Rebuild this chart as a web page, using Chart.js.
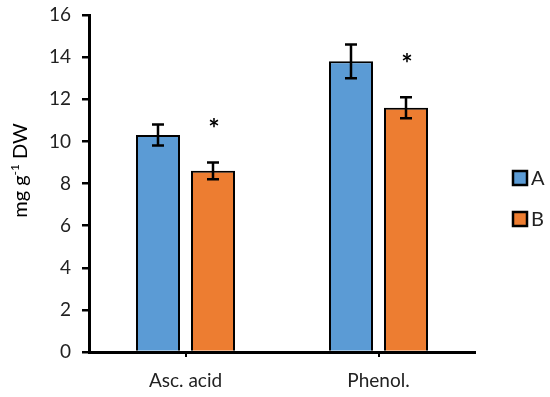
<!DOCTYPE html>
<html>
<head>
<meta charset="utf-8">
<script src="https://cdn.jsdelivr.net/npm/chart.js@4"></script>
<style>
  html, body { margin: 0; padding: 0; background: #fff; }
  #wrap { width: 550px; height: 397px; }
</style>
</head>
<body>
<div id="wrap"><canvas id="barChart"></canvas></div>
<script>
// data
const categories = ["Asc. acid", "Phenol."];
const seriesNames = ["A", "B"];
const valuesA = [10.3, 13.8];
const valuesB = [8.6, 11.6];
const errorsA = [0.5, 0.8];
const errorsB = [0.4, 0.5];
const markB = ["*", "*"]; // significance marks above series B
const yTicks = [0, 2, 4, 6, 8, 10, 12, 14, 16];

const FONT = "Lato";

// error bars + asterisks, placed with the chart's own scales
const errorBarPlugin = {
  id: "errorBars",
  afterDatasetsDraw(chart) {
    const ctx = chart.ctx;
    const y = chart.scales.y;
    ctx.save();
    ctx.strokeStyle = "#000";
    ctx.lineWidth = 2.5;
    chart.data.datasets.forEach((ds, i) => {
      const meta = chart.getDatasetMeta(i);
      meta.data.forEach((bar, j) => {
        const v = ds.data[j];
        const e = ds.errors[j];
        const yTop = y.getPixelForValue(v + e);
        const yBot = y.getPixelForValue(v - e);
        const half = 6;
        ctx.beginPath();
        ctx.moveTo(bar.x, yTop);
        ctx.lineTo(bar.x, yBot);
        ctx.moveTo(bar.x - half, yTop);
        ctx.lineTo(bar.x + half, yTop);
        ctx.moveTo(bar.x - half, yBot);
        ctx.lineTo(bar.x + half, yBot);
        ctx.stroke();
        if (ds.marks && ds.marks[j]) {
          ctx.fillStyle = "#000";
          ctx.font = "bold 27px " + FONT;
          ctx.textAlign = "center";
          ctx.textBaseline = "middle";
          ctx.fillText(ds.marks[j], bar.x + 1, yTop - 33);
        }
      });
    });
    ctx.restore();
  }
};

// y title with a real superscript, plus the legend on the right
const sideText = {
  id: "sideText",
  afterDraw(chart) {
    const ctx = chart.ctx;
    const area = chart.chartArea;
    ctx.save();

    // y axis title
    ctx.translate(21, (area.top + area.bottom) / 2 - 13);
    ctx.rotate(-Math.PI / 2);
    ctx.fillStyle = "#000";
    ctx.textBaseline = "middle";
    const parts = [["mg g", 20, 0], ["-1", 12, -6], [" DW", 20, 0]];
    let w = 0;
    parts.forEach(([t, s]) => { ctx.font = s + "px " + FONT; w += ctx.measureText(t).width; });
    let x = -w / 2;
    ctx.textAlign = "left";
    parts.forEach(([t, s, dy]) => {
      ctx.font = s + "px " + FONT;
      ctx.fillText(t, x, dy);
      x += ctx.measureText(t).width;
    });
    ctx.restore();

    // legend
    const boxX = 513, size = 14, gap = 41;
    const startY = 178;
    ctx.save();
    ctx.font = "20px " + FONT;
    ctx.textBaseline = "middle";
    ctx.textAlign = "left";
    chart.data.datasets.forEach((ds, i) => {
      const cy = startY + i * gap;
      ctx.fillStyle = ds.backgroundColor;
      ctx.fillRect(boxX, cy - size / 2, size, size);
      ctx.lineWidth = 2.5;
      ctx.strokeStyle = "#000";
      ctx.strokeRect(boxX, cy - size / 2, size, size);
      ctx.fillStyle = "#222";
      ctx.fillText(ds.label, boxX + size + 4, cy + 1);
    });
    ctx.restore();
  }
};

const ctx = document.getElementById("barChart").getContext("2d");
new Chart(ctx, {
  type: "bar",
  data: {
    labels: categories,
    datasets: [
      {
        label: seriesNames[0],
        data: valuesA,
        errors: errorsA,
        backgroundColor: "#5B9BD5",
        borderColor: "#000",
        borderWidth: 2,
        borderSkipped: "bottom",
        categoryPercentage: 0.57,
        barPercentage: 0.8,
      },
      {
        label: seriesNames[1],
        data: valuesB,
        errors: errorsB,
        marks: markB,
        backgroundColor: "#ED7D31",
        borderColor: "#000",
        borderWidth: 2,
        borderSkipped: "bottom",
        categoryPercentage: 0.57,
        barPercentage: 0.8,
      },
    ],
  },
  options: {
    responsive: true,
    maintainAspectRatio: false,
    animation: false,
    layout: { padding: { top: 15, right: 75, left: 0, bottom: 0 } },
    plugins: {
      legend: { display: false },
      tooltip: { enabled: false },
    },
    scales: {
      x: {
        grid: {
          offset: false,
          drawOnChartArea: false,
          drawTicks: true,
          tickLength: 5,
          color: "#000",
          lineWidth: 2,
        },
        border: { color: "#000", width: 3 },
        ticks: {
          color: "#222",
          padding: 12,
          font: { family: FONT, size: 19 },
        },
        afterFit: (axis) => { axis.height = 45; },
      },
      y: {
        min: 0,
        max: 16,
        afterBuildTicks: (axis) => {
          axis.ticks = yTicks.map((v) => ({ value: v }));
        },
        grid: {
          drawOnChartArea: false,
          drawTicks: true,
          tickLength: 7,
          color: "#000",
          lineWidth: 2.5,
        },
        border: { color: "#000", width: 3 },
        ticks: {
          color: "#222",
          padding: 11,
          font: { family: FONT, size: 19 },
        },
        afterFit: (axis) => {
          axis.width = 89;
          axis.paddingTop = 0;
          axis.paddingBottom = 0;
        },
      },
    },
  },
  plugins: [errorBarPlugin, sideText],
});
</script>
</body>
</html>
